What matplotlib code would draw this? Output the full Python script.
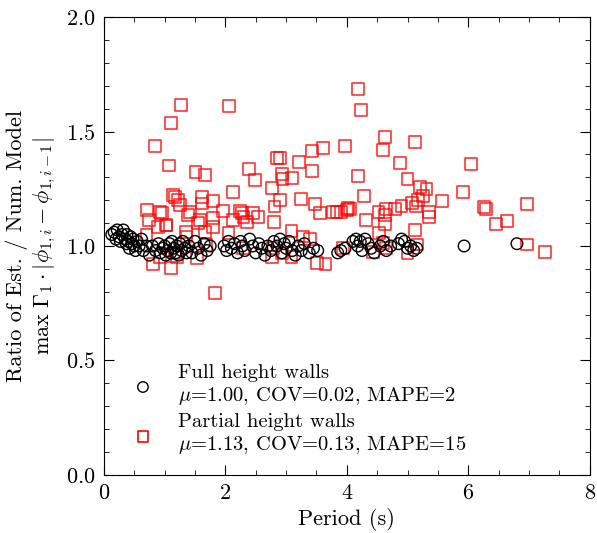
import matplotlib
matplotlib.use("Agg")
import matplotlib.pyplot as plt
import numpy as np

plt.rcParams['font.family'] = 'serif'
plt.rcParams['font.serif'] = ['cmr10']
plt.rcParams['mathtext.fontset'] = 'cm'
plt.rcParams['axes.formatter.use_mathtext'] = True

# full height walls (period, ratio)
full_T = [0.13, 0.17, 0.20, 0.22, 0.25, 0.27, 0.30, 0.32, 0.35, 0.37, 0.38, 0.40, 0.42, 0.44,
          0.46, 0.48, 0.50, 0.52, 0.55, 0.58, 0.62, 0.65, 0.70, 0.75, 0.80, 0.85, 0.90, 0.93,
          0.97, 1.00, 1.02, 1.05, 1.08, 1.10, 1.12, 1.15, 1.18, 1.20, 1.23, 1.25, 1.28, 1.30,
          1.33, 1.36, 1.40, 1.45, 1.50, 1.55, 1.60, 1.65, 1.70, 1.75,
          1.98, 2.02, 2.05, 2.10, 2.15, 2.20, 2.25, 2.28, 2.32, 2.40, 2.45, 2.50, 2.55, 2.60,
          2.65, 2.70, 2.75, 2.80, 2.85, 2.90, 2.93, 2.97, 3.00, 3.05, 3.10, 3.15, 3.20, 3.25,
          3.30, 3.38, 3.45, 3.52,
          3.85, 3.90, 3.97, 4.10, 4.15, 4.18, 4.22, 4.25, 4.30, 4.35, 4.40, 4.45, 4.55, 4.60,
          4.65, 4.72, 4.85, 4.90, 4.95, 5.00, 5.05, 5.10, 5.15,
          5.93, 6.80]
full_R = [1.05, 1.06, 1.03, 1.07, 1.04, 1.02, 1.05, 1.07, 1.03, 1.01, 1.05, 1.02, 0.99, 1.04,
          1.01, 1.03, 1.00, 0.98, 1.02, 1.00, 1.03, 0.98, 1.00, 0.96, 1.00, 0.98, 1.01, 0.97,
          0.99, 1.00, 0.96, 0.98, 1.01, 0.97, 1.02, 0.99, 0.97, 1.00, 0.96, 1.01, 0.98, 1.02,
          0.99, 0.97, 1.00, 0.97, 1.02, 0.99, 0.96, 1.01, 0.98, 1.00,
          1.00, 0.98, 1.02, 0.99, 1.01, 0.97, 1.02, 1.00, 0.98, 1.03, 1.00, 0.97, 1.01, 0.99,
          0.96, 1.00, 0.98, 1.02, 1.00, 1.03, 0.97, 1.01, 0.99, 1.02, 0.98, 0.96, 1.00, 0.98,
          1.01, 0.97, 0.99, 0.98,
          0.97, 0.98, 0.99, 1.02, 1.03, 1.00, 1.02, 0.98, 1.03, 1.01, 0.99, 0.97, 1.00, 1.02,
          0.98, 1.00, 1.01, 1.03, 1.02, 0.99, 1.00, 0.98, 0.99,
          1.00, 1.01]

# partial height walls
part_T = [1.27, 2.06, 1.10, 0.84, 1.07, 1.51, 1.66, 2.13, 2.39, 2.49, 2.85, 2.90, 3.21, 3.42,
          3.61, 3.97, 2.93, 2.94, 3.10, 3.43, 2.77, 2.90, 3.25, 3.47, 3.56, 3.77, 3.83, 3.90,
          4.00, 2.81, 2.80, 0.71, 0.74, 0.92, 0.96, 1.14, 1.17, 1.22, 1.25, 1.39, 1.42, 1.61,
          1.61, 1.80, 1.96, 1.80, 1.58, 2.24, 2.27, 2.46, 2.54, 2.30, 2.35, 2.13, 2.05, 0.89,
          1.03, 0.70, 0.81, 1.10, 1.83, 3.51, 3.65, 3.09, 2.79, 2.77, 2.93, 3.09, 3.28, 3.39,
          2.29, 1.53, 1.35, 1.36, 1.17, 1.20, 0.92, 1.69, 1.66, 1.55, 1.80, 1.02, 3.94, 4.02,
          4.18, 4.23, 4.63, 5.12, 4.59, 4.88, 6.05, 4.18, 5.00, 5.20, 5.31, 5.25, 5.17, 4.28,
          5.56, 5.91, 6.96, 6.26, 6.29, 4.05, 4.52, 4.64, 4.79, 4.90, 5.07, 5.14, 4.63, 5.35,
          5.35, 4.31, 4.63, 6.45, 6.63, 4.53, 5.12, 4.60, 4.64, 4.43, 5.00, 5.16, 6.96, 7.26]
part_R = [1.616, 1.613, 1.537, 1.437, 1.352, 1.323, 1.310, 1.236, 1.335, 1.288, 1.383, 1.383,
          1.368, 1.416, 1.427, 1.437, 1.314, 1.291, 1.297, 1.328, 1.253, 1.201, 1.205, 1.183,
          1.143, 1.150, 1.150, 1.147, 1.157, 1.172, 1.104, 1.157, 1.114, 1.150, 1.145, 1.223,
          1.215, 1.201, 1.179, 1.135, 1.150, 1.215, 1.186, 1.197, 1.154, 1.121, 1.114, 1.154,
          1.143, 1.143, 1.125, 1.128, 1.106, 1.114, 1.055, 1.084, 1.092, 1.048, 0.921, 0.903,
          0.793, 0.924, 0.921, 1.067, 0.990, 0.951, 0.968, 0.953, 1.041, 1.029, 0.990, 0.946,
          1.062, 1.041, 0.968, 0.953, 0.953, 1.004, 1.062, 1.099, 1.084, 1.089, 0.990, 1.166,
          1.686, 1.594, 1.475, 1.455, 1.418, 1.362, 1.358, 1.306, 1.291, 1.256, 1.248, 1.218,
          1.201, 1.218, 1.198, 1.237, 1.183, 1.169, 1.163, 1.163, 1.148, 1.160, 1.163, 1.175,
          1.189, 1.172, 1.135, 1.148, 1.125, 1.115, 1.096, 1.096, 1.108, 1.057, 1.071, 1.012,
          0.990, 0.972, 0.971, 1.006, 1.006, 0.974]

full_label = 'Full height walls\n$\\mu$=1.00, COV=0.02, MAPE=2'
part_label = 'Partial height walls\n$\\mu$=1.13, COV=0.13, MAPE=15'

fig = plt.figure(figsize=(5.97, 5.33), dpi=100)
ax = fig.add_axes([0.174, 0.109, 0.814, 0.859])

ax.scatter(full_T, full_R, s=70, facecolors='none', edgecolors='black', linewidths=1.0,
           label=full_label, zorder=3)
ax.scatter(part_T, part_R, s=72, marker='s', facecolors='none', edgecolors='red',
           linewidths=1.2, alpha=0.8, label=part_label, zorder=2)

ax.set_xlim(0, 8)
ax.set_ylim(0, 2)
ax.set_xticks([0, 2, 4, 6, 8])
ax.set_yticks([0.0, 0.5, 1.0, 1.5, 2.0])
ax.set_xticks(np.arange(0, 8.01, 0.5), minor=True)
ax.set_yticks(np.arange(0, 2.01, 0.1), minor=True)
ax.tick_params(which='both', direction='in', top=True, right=True, labelsize=16, pad=6)
ax.tick_params(which='major', length=7)
ax.tick_params(which='minor', length=3.5)

ax.set_xlabel('Period (s)', fontsize=16, labelpad=4)
ax.set_ylabel('Ratio of Est. / Num. Model\n$\\max\\ \\Gamma_1 \\cdot |\\phi_{1,i} - \\phi_{1,i-1}|$',
              fontsize=16, labelpad=6)

leg = ax.legend(loc='lower left', bbox_to_anchor=(0.0, 0.0), frameon=False, fontsize=14.8,
                markerscale=0.9, handlelength=2.0, handletextpad=0.7, labelspacing=0.3)
for lh in leg.legend_handles:
    lh.set_alpha(1)

fig.savefig('out.png', dpi=100)
